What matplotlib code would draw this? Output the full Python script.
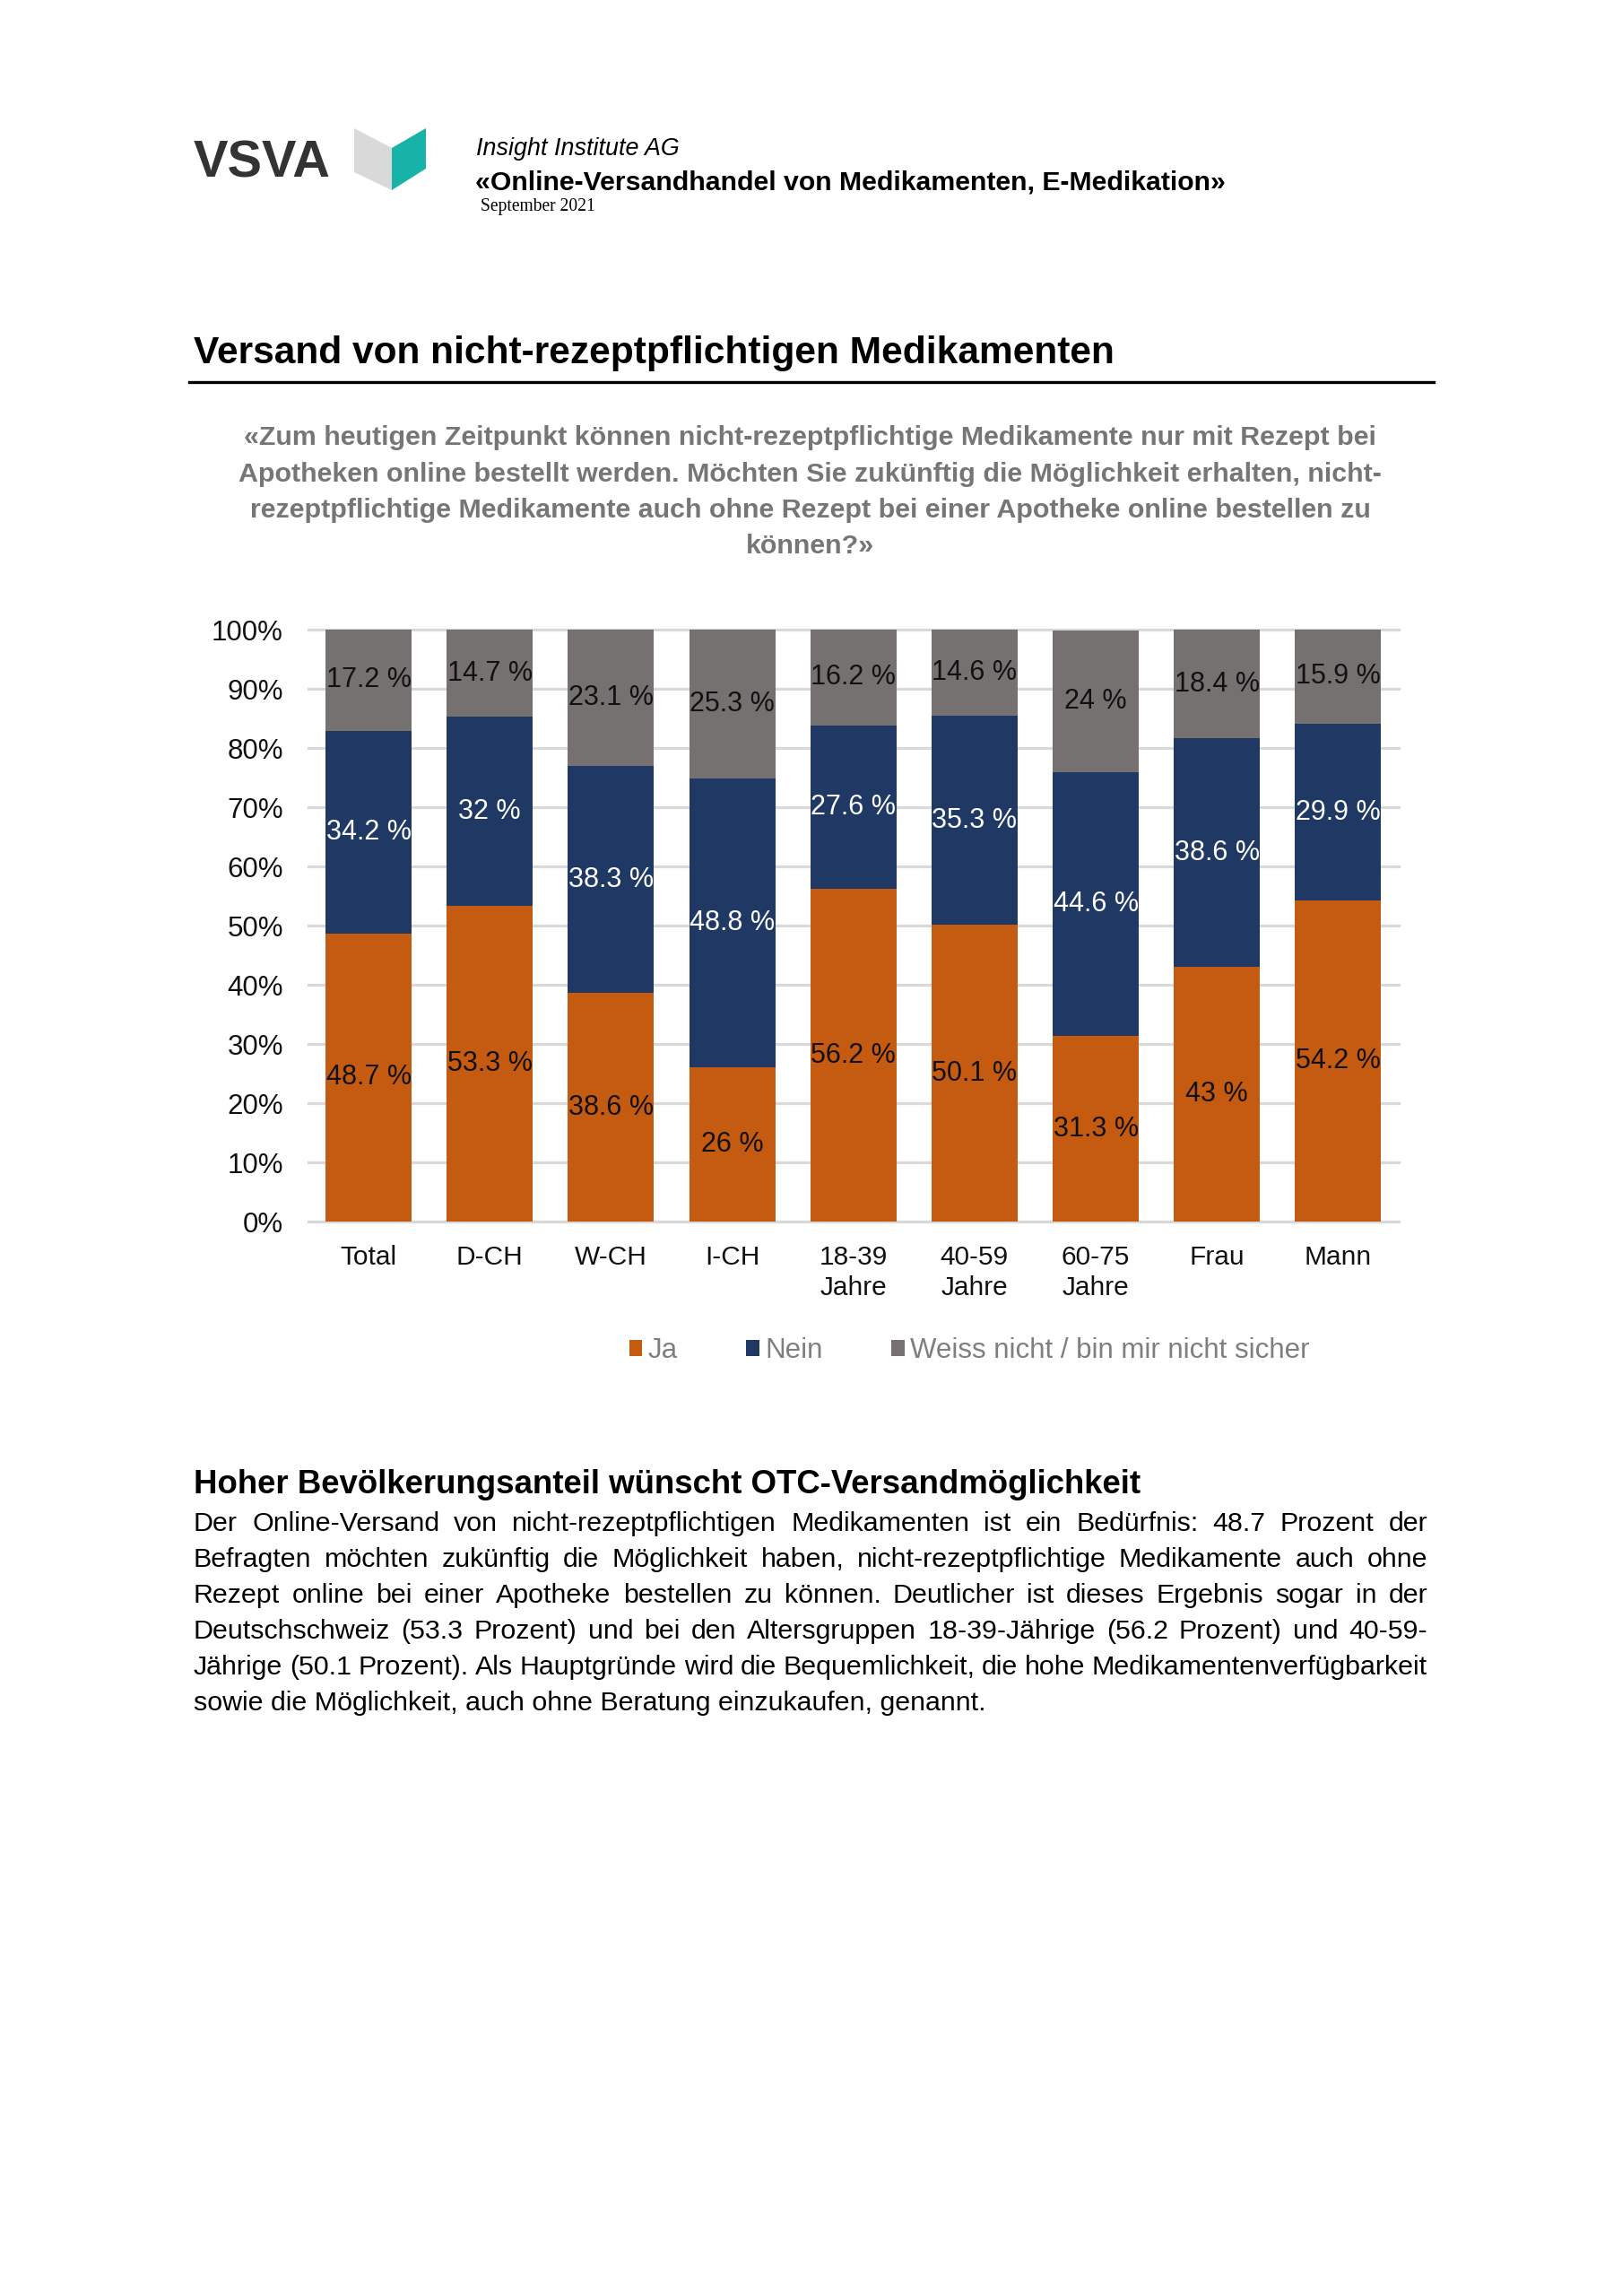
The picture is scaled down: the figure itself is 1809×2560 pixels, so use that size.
import matplotlib
matplotlib.use('Agg')
import matplotlib.pyplot as plt
from matplotlib.patches import Polygon
from matplotlib.lines import Line2D

W, H = 1809, 2560
DPI = 100

# ---------------- data ----------------
categories = ["Total", "D-CH", "W-CH", "I-CH", "18-39\nJahre", "40-59\nJahre",
              "60-75\nJahre", "Frau", "Mann"]
ja = [48.7, 53.3, 38.6, 26, 56.2, 50.1, 31.3, 43, 54.2]
nein = [34.2, 32, 38.3, 48.8, 27.6, 35.3, 44.6, 38.6, 29.9]
weiss = [17.2, 14.7, 23.1, 25.3, 16.2, 14.6, 24, 18.4, 15.9]
series_names = ["Ja", "Nein", "Weiss nicht / bin mir nicht sicher"]
yticks = [0, 10, 20, 30, 40, 50, 60, 70, 80, 90, 100]
ytick_labels = [f"{v}%" for v in yticks]

header_org = "Insight Institute AG"
header_title = "«Online-Versandhandel von Medikamenten, E-Medikation»"
header_date = "September 2021"
section_title = "Versand von nicht-rezeptpflichtigen Medikamenten"
question_lines = [
    "«Zum heutigen Zeitpunkt können nicht-rezeptpflichtige Medikamente nur mit Rezept bei",
    "Apotheken online bestellt werden. Möchten Sie zukünftig die Möglichkeit erhalten, nicht-",
    "rezeptpflichtige Medikamente auch ohne Rezept bei einer Apotheke online bestellen zu",
    "können?»",
]
bottom_heading = "Hoher Bevölkerungsanteil wünscht OTC-Versandmöglichkeit"
paragraph_lines = [
    "Der Online-Versand von nicht-rezeptpflichtigen Medikamenten ist ein Bedürfnis: 48.7 Prozent der",
    "Befragten möchten zukünftig die Möglichkeit haben, nicht-rezeptpflichtige Medikamente auch ohne",
    "Rezept online bei einer Apotheke bestellen zu können. Deutlicher ist dieses Ergebnis sogar in der",
    "Deutschschweiz (53.3 Prozent) und bei den Altersgruppen 18-39-Jährige (56.2 Prozent) und 40-59-",
    "Jährige (50.1 Prozent). Als Hauptgründe wird die Bequemlichkeit, die hohe Medikamentenverfügbarkeit",
    "sowie die Möglichkeit, auch ohne Beratung einzukaufen, genannt.",
]

# ---------------- style ----------------
C_JA = "#C55A11"
C_NEIN = "#203864"
C_WEISS = "#767171"
C_GRID = "#D9D9D9"

plt.rcParams['font.family'] = ['Liberation Sans', 'DejaVu Sans']
fig = plt.figure(figsize=(W / DPI, H / DPI), dpi=DPI)
fig.patch.set_facecolor('white')
renderer = fig.canvas.get_renderer()


def fx(x):
    return x / W


def fy(y):
    return 1 - y / H


def fit_size(s, width, ref=20, **kw):
    t = fig.text(0, 0, s, fontsize=ref, **kw)
    w = t.get_window_extent(renderer).width
    t.remove()
    return ref * width / w


def fit_text(x0, x1, baseline, s, **kw):
    fs = fit_size(s, x1 - x0, **kw)
    t = fig.text(fx(x0), fy(baseline), s, fontsize=fs, va='baseline', ha='left', **kw)
    return t, fs


# ---------------- header ----------------
fit_text(216, 369, 198, "VSVA", fontweight='heavy', color='#333333')
fig.add_artist(Polygon([[fx(395), fy(143)], [fx(437), fy(165)], [fx(437), fy(212)], [fx(395), fy(192)]],
                       closed=True, transform=fig.transFigure, facecolor='#D9D9D9', edgecolor='none'))
fig.add_artist(Polygon([[fx(437), fy(165)], [fx(475), fy(143)], [fx(475), fy(188)], [fx(437), fy(212)]],
                       closed=True, transform=fig.transFigure, facecolor='#17B3A9', edgecolor='none'))
fit_text(531, 757, 173, header_org, style='italic', color='black')
fit_text(530, 1368, 212, header_title, fontweight='bold', color='black')
fit_text(536, 664, 235, header_date, family=['Liberation Serif', 'DejaVu Serif'], color='black')

# ---------------- section title ----------------
fit_text(216, 1243, 405, section_title, fontweight='bold', color='black')
fig.add_artist(Line2D([fx(211), fx(1599)], [fy(426), fy(426)], transform=fig.transFigure,
                      color='black', lw=2.4))

# ---------------- question ----------------
qfs = fit_size(question_lines[0], 1536 - 271, fontweight='bold')
for i, line in enumerate(question_lines):
    fig.text(fx(903.5), fy(496.5 + i * 40.3), line, fontsize=qfs, fontweight='bold',
             color='#767676', ha='center', va='baseline')

# ---------------- chart ----------------
ax = fig.add_axes([fx(343.5), fy(1362), (1560 - 343.5) / W, (1362 - 702) / H])
x = list(range(len(categories)))
bw = 0.71
b1 = ax.bar(x, ja, width=bw, color=C_JA, label=series_names[0], zorder=2)
b2 = ax.bar(x, nein, width=bw, bottom=ja, color=C_NEIN, label=series_names[1], zorder=2)
bot3 = [a + b for a, b in zip(ja, nein)]
b3 = ax.bar(x, weiss, width=bw, bottom=bot3, color=C_WEISS, label=series_names[2], zorder=2)

FS_LAB = 22
ax.bar_label(b1, labels=[f"{v:g} %" for v in ja], label_type='center', color='#111111', fontsize=FS_LAB)
ax.bar_label(b2, labels=[f"{v:g} %" for v in nein], label_type='center', color='white', fontsize=FS_LAB)
ax.bar_label(b3, labels=[f"{v:g} %" for v in weiss], label_type='center', color='#111111', fontsize=FS_LAB)

ax.set_xlim(-0.5, len(categories) - 0.5)
ax.set_ylim(0, 100)
ax.set_yticks(yticks)
ax.set_yticklabels(ytick_labels, fontsize=22.5)
ax.set_xticks(x)
ax.set_xticklabels(categories, linespacing=1.3, fontsize=21.5)
for s in ax.spines.values():
    s.set_visible(False)
ax.yaxis.grid(True, color=C_GRID, lw=2.3, zorder=0)
for gl in ax.get_ygridlines():
    gl.set_clip_on(False)
ax.set_axisbelow(True)
ax.tick_params(axis='both', length=0, colors='#111111')
ax.tick_params(axis='y', pad=19.8)
ax.tick_params(axis='x', pad=18.5)

leg = ax.legend(handles=[b1, b2, b3], labels=series_names, loc='center',
                bbox_to_anchor=(fx(1081), fy(1506)), bbox_transform=fig.transFigure,
                ncol=3, frameon=False, fontsize=22.5, handlelength=0.47, handleheight=0.55,
                handletextpad=0.2, columnspacing=2.45, labelcolor='#7F7F7F', borderpad=0)

# ---------------- bottom text ----------------
fit_text(216, 1271, 1665, bottom_heading, fontweight='bold', color='black')

L, R = 216, 1592
_, pfs = fit_text(L, 1097, 1907, paragraph_lines[-1], color='black')
for i, line in enumerate(paragraph_lines[:-1]):
    words = line.split(' ')
    base = 1707 + i * 40
    ts = []
    widths = []
    for w_ in words:
        t = fig.text(0, fy(base), w_, fontsize=pfs, color='black', va='baseline', ha='left')
        ts.append(t)
        widths.append(t.get_window_extent(renderer).width)
    gap = (R - L - sum(widths)) / (len(words) - 1)
    xpos = L
    for t, wd in zip(ts, widths):
        t.set_x(fx(xpos))
        xpos += wd + gap

fig.savefig('out.png', dpi=DPI, facecolor='white')
